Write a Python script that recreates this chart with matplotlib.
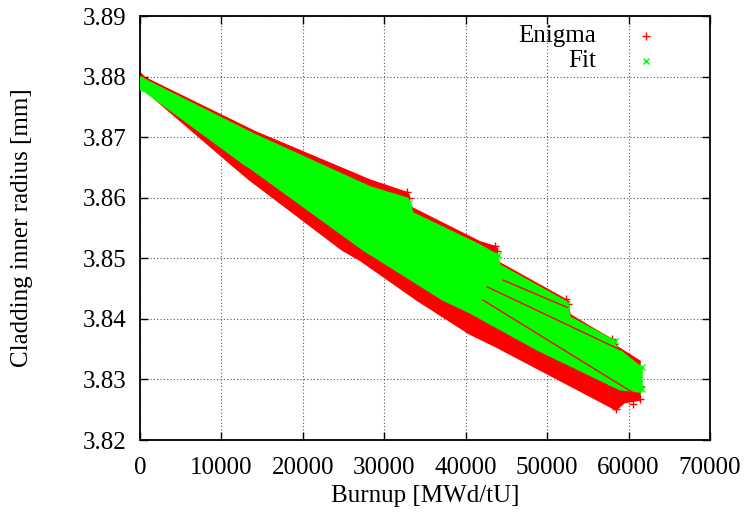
import matplotlib
matplotlib.use('Agg')
import matplotlib.pyplot as plt

plt.rcParams['font.family'] = ['Liberation Serif', 'DejaVu Serif']

# Envelope of the Enigma cloud (upper edge left->right, lower edge right->left)
enigma_upper_burnup = [0, 614, 14122, 28244, 32900, 33150, 41750, 43700, 43960, 52400, 52800, 55260, 58100, 58580, 61400]
enigma_upper_radius = [3.8806, 3.8798, 3.8709, 3.8629, 3.8608, 3.8585, 3.8527, 3.8519, 3.8494, 3.8431, 3.8407, 3.8387, 3.8365, 3.8354, 3.8330]
enigma_lower_burnup = [61400, 59500, 58450, 43590, 40520, 34020, 27020, 24810, 13510, 11300, 980, 0]
enigma_lower_radius = [3.8266, 3.8262, 3.8250, 3.8355, 3.8375, 3.8431, 3.8497, 3.8514, 3.8629, 3.8654, 3.8773, 3.8791]

# Envelope of the fit cloud
fit_upper_burnup = [0, 614, 14000, 28244, 32900, 33150, 33520, 41750, 43960, 44200, 52400, 52800, 58100, 58580, 61650]
fit_upper_radius = [3.8800, 3.8795, 3.8705, 3.8618, 3.8599, 3.8591, 3.8575, 3.8522, 3.8505, 3.8489, 3.8428, 3.8403, 3.8365, 3.8352, 3.8319]
fit_lower_burnup = [61650, 58950, 48750, 40520, 37210, 27380, 13510, 12890, 614, 0]
fit_lower_radius = [3.8279, 3.8283, 3.8349, 3.8410, 3.8431, 3.8514, 3.8649, 3.8654, 3.8775, 3.8778]

# Enigma trajectories left uncovered by the fit
stripe_burnup = [(44580, 52440), (42610, 58950), (42120, 61400)]
stripe_radius = [(3.8464, 3.8419), (3.8453, 3.8349), (3.8431, 3.8271)]

# Points sticking out at the start and at the end of the groups
enigma_pts_burnup = [0, 0, 32800, 33000, 43600, 43800, 52300, 52500, 58000, 58200, 58450, 57500, 61400, 61400, 60500, 59500]
enigma_pts_radius = [3.8798, 3.8792, 3.8610, 3.8600, 3.8520, 3.8512, 3.8432, 3.8425, 3.8366, 3.8358, 3.8252, 3.8262, 3.8267, 3.8290, 3.8259, 3.8270]
fit_pts_burnup = [0, 0, 33000, 43900, 52400, 58300, 61600, 61600, 57800, 43400, 52200]
fit_pts_radius = [3.8795, 3.8782, 3.8592, 3.8505, 3.8424, 3.8363, 3.8320, 3.8285, 3.8295, 3.8402, 3.8365]

xticks = [0, 10000, 20000, 30000, 40000, 50000, 60000, 70000]
yticks = [3.82, 3.83, 3.84, 3.85, 3.86, 3.87, 3.88, 3.89]

RED = '#ff0000'
GREEN = '#00ff00'
FS = 18

fig = plt.figure(figsize=(7.46, 5.2), dpi=100)
ax = fig.add_axes([0.1877, 0.1538, 0.7641, 0.8154])

ax.fill(enigma_upper_burnup + enigma_lower_burnup, enigma_upper_radius + enigma_lower_radius,
        facecolor=RED, edgecolor=RED, lw=1.2, zorder=2)
ax.plot(enigma_pts_burnup, enigma_pts_radius, '+', color=RED, ms=6, mew=1.0, zorder=2)
ax.fill(fit_upper_burnup + fit_lower_burnup, fit_upper_radius + fit_lower_radius,
        facecolor=GREEN, edgecolor=GREEN, lw=1.0, zorder=3)
ax.plot(fit_pts_burnup, fit_pts_radius, 'x', color=GREEN, ms=5, mew=1.0, zorder=3)
for bx, ry in zip(stripe_burnup, stripe_radius):
    ax.plot(bx, ry, '-', color=RED, lw=1.0, zorder=4)

ax.set_xlim(0, 70000)
ax.set_ylim(3.82, 3.89)
ax.set_xticks(xticks)
ax.set_yticks(yticks)
ax.set_xticklabels([str(t) for t in xticks])
ax.set_yticklabels(['%.2f' % t for t in yticks])
ax.tick_params(direction='in', length=6, width=1, top=True, right=True, labelsize=FS)
ax.tick_params(axis='x', pad=12)
ax.tick_params(axis='y', pad=10)
ax.grid(True, color='#555555', linestyle=(0, (1, 2)), lw=0.8, zorder=0)
ax.set_axisbelow(True)
for s in ax.spines.values():
    s.set_linewidth(1.3)

ax.set_xlabel('Burnup [MWd/tU]', fontsize=FS)
ax.set_ylabel('Cladding inner radius [mm]', fontsize=FS)
ax.xaxis.set_label_coords(0.5, -0.105)
ax.yaxis.set_label_coords(-0.188, 0.5)

# gnuplot style key: right aligned text, sample to the right
ax.text(0.8, 0.952, 'Enigma', transform=ax.transAxes, ha='right', va='center', fontsize=FS)
ax.text(0.8, 0.893, 'Fit', transform=ax.transAxes, ha='right', va='center', fontsize=FS)
ax.plot([0.887], [0.952], '+', color=RED, ms=6, mew=1, transform=ax.transAxes)
ax.plot([0.887], [0.893], 'x', color=GREEN, ms=5, mew=1, transform=ax.transAxes)

fig.savefig('out.png', dpi=100)
